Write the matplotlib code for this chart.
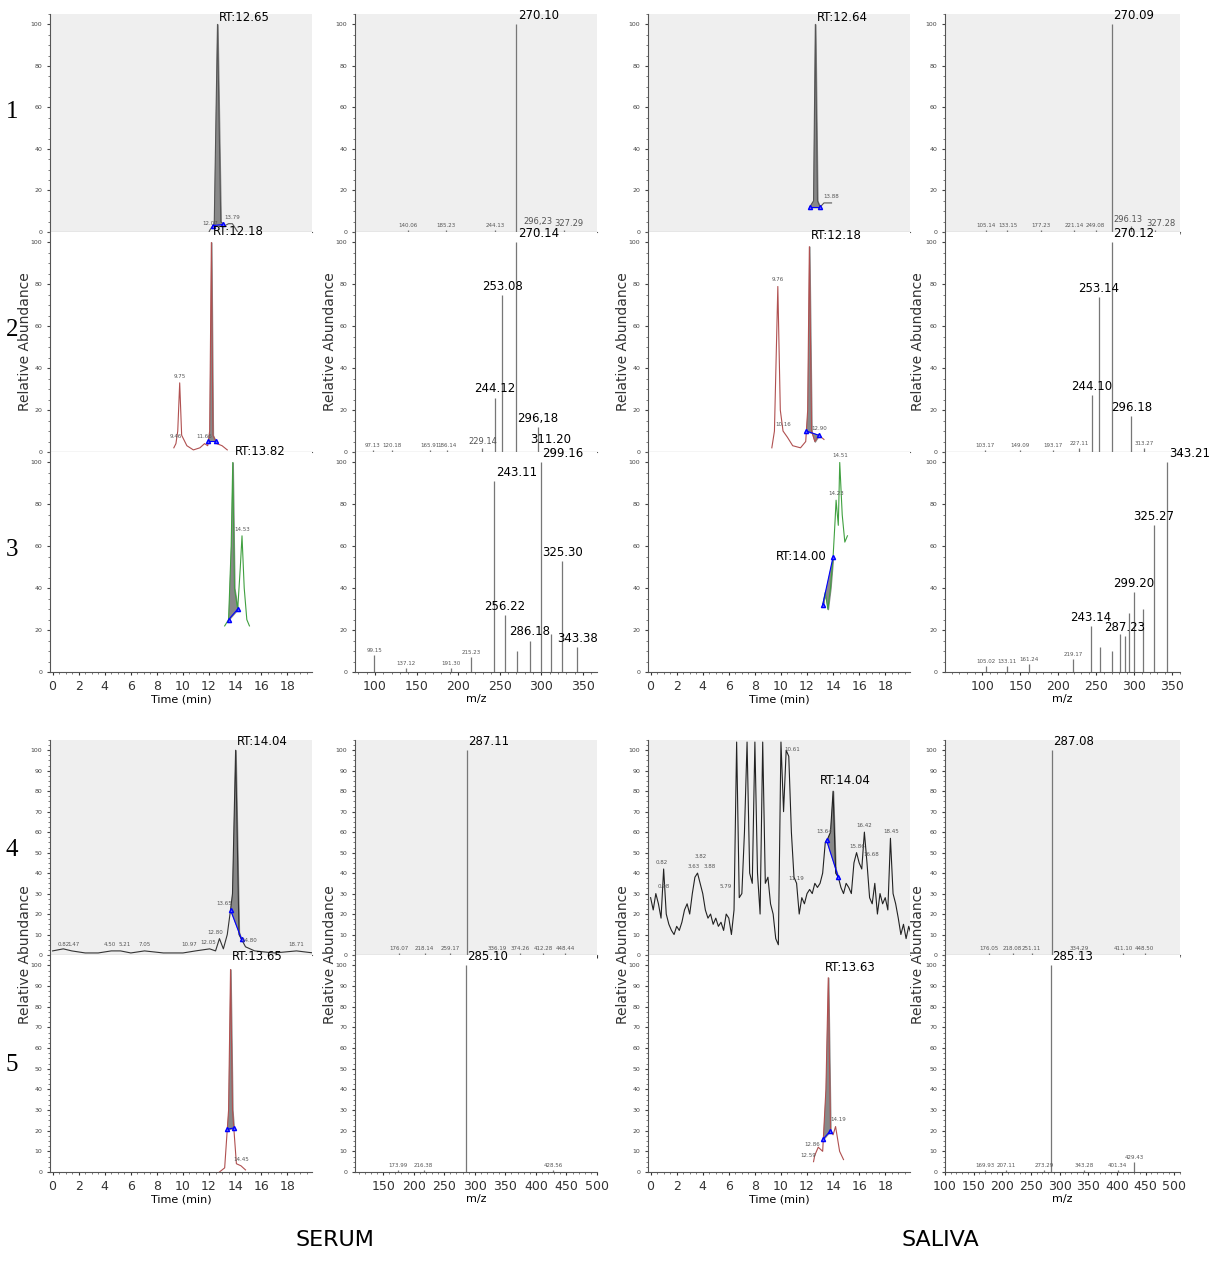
import numpy as np
import matplotlib
matplotlib.use("Agg")
import matplotlib.pyplot as plt
from matplotlib.ticker import MultipleLocator

plt.rcParams['font.family'] = ['DejaVu Sans']

W, H = 1210, 1268

# ---- chromatograms: (time, intensity) vertices, fill range, labels ----
c1_1 = [(12.0, 0), (12.07, 1), (12.4, 4), (12.65, 100), (12.9, 5), (13.2, 3), (13.5, 4), (13.79, 4), (14.2, 0)]
c1_2 = [(9.3, 2), (9.46, 4), (9.6, 10), (9.75, 33), (9.9, 8), (10.3, 3), (10.8, 1), (11.3, 2), (11.66, 4),
        (11.9, 3), (12.05, 10), (12.18, 100), (12.3, 8), (12.6, 4), (13.0, 3), (13.4, 1)]
c1_3 = [(13.2, 22), (13.5, 25), (13.7, 60), (13.82, 100), (13.95, 40), (14.2, 30), (14.4, 50), (14.53, 65),
        (14.7, 40), (14.9, 25), (15.1, 22)]
c3_1 = [(12.2, 12), (12.5, 15), (12.64, 100), (12.8, 15), (13.0, 12), (13.3, 14), (13.6, 14), (13.88, 14)]
c3_2 = [(9.3, 2), (9.5, 10), (9.76, 79), (9.95, 20), (10.16, 10), (10.5, 7), (10.9, 3), (11.5, 2), (11.9, 5),
        (12.05, 20), (12.18, 98), (12.35, 10), (12.6, 5), (12.9, 8), (13.3, 6)]
c3_3 = [(13.2, 32), (13.4, 38), (13.6, 30), (13.8, 40), (14.0, 55), (14.15, 72), (14.23, 82), (14.4, 70),
        (14.51, 100), (14.7, 75), (14.9, 62), (15.1, 65)]
c1_4 = [(0, 2), (0.82, 3), (1.47, 2), (2.5, 1), (3.5, 1), (4.5, 2), (5.21, 2), (6.0, 1), (7.05, 2), (8.5, 1),
        (10.0, 1), (10.97, 2), (12.05, 3), (12.5, 2), (12.8, 8), (13.1, 3), (13.4, 10), (13.65, 22), (13.8, 30),
        (14.04, 100), (14.3, 10), (14.8, 4), (15.5, 2), (17.0, 1), (18.71, 2), (20, 1)]
c1_5 = [(12.8, 0), (13.2, 2), (13.5, 30), (13.65, 98), (13.8, 30), (14.1, 4), (14.45, 3), (14.8, 1)]
c3_5 = [(12.5, 5), (12.59, 8), (12.86, 12), (13.2, 10), (13.45, 40), (13.63, 94), (13.8, 20), (14.0, 18),
        (14.19, 22), (14.5, 10), (14.8, 6)]
# saliva row 4, sampled every 0.2 min from 0 to 20
c3_4_vals = [28, 22, 30, 25, 18, 42, 20, 15, 12, 10, 14, 12, 16, 22, 25, 20, 30, 38, 40, 35, 30, 22, 18, 20,
             15, 18, 14, 16, 12, 20, 18, 10, 22, 120, 28, 30, 60, 120, 40, 35, 120, 40, 20, 120, 35, 38, 25,
             20, 8, 5, 120, 70, 100, 97, 60, 38, 35, 20, 28, 25, 30, 32, 30, 35, 33, 35, 40, 55, 57, 60, 80,
             40, 38, 33, 30, 35, 33, 30, 45, 50, 45, 42, 60, 45, 28, 25, 35, 20, 30, 25, 28, 22, 57, 30, 25,
             18, 10, 15, 8, 14, 10]

chrom_labels = {
    "c1_1": [(12.07, 3, "12.07"), (13.79, 6, "13.79")],
    "c1_2": [(9.46, 6, "9.46"), (9.75, 35, "9.75"), (11.66, 6, "11.66")],
    "c1_3": [(14.53, 67, "14.53")],
    "c3_1": [(13.88, 16, "13.88")],
    "c3_2": [(9.76, 81, "9.76"), (10.16, 12, "10.16"), (12.9, 10, "12.90")],
    "c3_3": [(14.51, 102, "14.51"), (14.23, 84, "14.23")],
    "c1_4": [(0.82, 4, "0.82"), (1.6, 4, "1.47"), (4.4, 4, "4.50"), (5.5, 4, "5.21"), (7.05, 4, "7.05"),
             (10.5, 4, "10.97"), (11.9, 5, "12.05"), (12.5, 10, "12.80"), (13.2, 24, "13.65"),
             (15.1, 6, "14.80"), (18.71, 4, "18.71")],
    "c1_5": [(14.45, 5, "14.45")],
    "c3_4": [(0.82, 44, "0.82"), (1.0, 32, "0.98"), (3.3, 42, "3.63"), (3.82, 47, "3.82"), (4.5, 42, "3.88"),
             (5.79, 32, "5.79"), (10.9, 99, "10.61"), (11.19, 36, "11.19"), (13.3, 59, "13.64"),
             (15.86, 52, "15.86"), (16.42, 62, "16.42"), (16.9, 48, "16.68"), (18.45, 59, "18.45")],
    "c3_5": [(12.4, 12, "12.86"), (12.1, 7, "12.59"), (14.4, 24, "14.19")],
}

# ---- mass spectra: (m/z, intensity) ----
s2_1 = [(140.06, 1), (185.23, 1), (244.13, 1), (270.10, 100), (296.23, 2), (327.29, 1)]
s2_2 = [(97.13, 1), (120.18, 1), (165.91, 1), (186.14, 1), (229.14, 2), (244.12, 26), (253.08, 75),
        (270.14, 100), (296.18, 12), (311.20, 2)]
s2_3 = [(99.15, 8), (137.12, 2), (191.30, 2), (215.23, 7), (243.11, 91), (256.22, 27), (271.2, 10), (286.18, 15),
        (299.16, 100), (311.2, 18), (325.30, 53), (343.38, 12)]
s4_1 = [(105.14, 1), (133.15, 1), (177.23, 1), (221.14, 1), (249.08, 1), (270.09, 100), (296.13, 3), (327.28, 1)]
s4_2 = [(103.17, 1), (149.09, 1), (193.17, 1), (227.11, 2), (244.10, 27), (253.14, 74), (270.12, 100),
        (296.18, 17), (313.27, 2)]
s4_3 = [(105.02, 3), (133.11, 3), (161.24, 4), (219.17, 6), (243.14, 22), (255.0, 12), (270.0, 10),
        (281.0, 18), (287.23, 17), (293.0, 28), (299.20, 38), (311.0, 30), (325.27, 70), (343.21, 100)]
s2_4 = [(176.07, 1), (218.14, 1), (259.17, 1), (287.11, 100), (336.19, 1), (374.26, 1), (412.28, 1), (448.44, 1)]
s2_5 = [(173.99, 1), (216.38, 1), (285.10, 100), (428.56, 1)]
s4_4 = [(176.05, 1), (218.08, 1), (251.11, 1), (287.08, 100), (334.29, 1), (411.10, 1), (448.50, 1)]
s4_5 = [(169.93, 1), (207.11, 1), (273.29, 1), (285.13, 100), (343.28, 1), (401.34, 1), (429.43, 5)]
big_labels = {"270.10", "270.14", "253.08", "244.12", "296,18", "243.11", "299.16", "325.30", "256.22",
              "286.18", "343.38", "270.09", "270.12", "253.14", "244.10", "296.18", "343.21", "325.27",
              "299.20", "243.14", "287.23", "287.11", "285.10", "287.08", "285.13", "311.20"}
mid_labels = {"296,23", "327.29", "296.13", "327.28", "229.14"}

fig = plt.figure(figsize=(W / 100, H / 100), dpi=100)


def make_ax(x0, y0, x1, y1, grey, ystep):
    ax = fig.add_axes([x0 / W, 1 - y1 / H, (x1 - x0) / W, (y1 - y0) / H])
    ax.set_facecolor("#efefef" if grey else "white")
    for s in ("top", "right"):
        ax.spines[s].set_visible(False)
    for s in ("left", "bottom"):
        ax.spines[s].set_color("#555555")
        ax.spines[s].set_linewidth(0.8)
    ax.set_ylim(0, 105)
    ax.set_yticks(np.arange(0, 101, ystep))
    ax.yaxis.set_minor_locator(MultipleLocator(ystep / 4))
    ax.tick_params(axis="y", labelsize=4.5, length=2, colors="#444444")
    ax.tick_params(axis="both", which="minor", length=1.2, colors="#666666")
    ax.tick_params(axis="x", labelsize=9, length=2, colors="#333333")
    return ax


def chrom(ax, pts, color, fill, labels, rt=None, rt_pos=None, show_x=False):
    t = np.array([p[0] for p in pts], dtype=float)
    y = np.array([min(p[1], 104) for p in pts], dtype=float)
    ax.set_xlim(-0.2, 19.9)
    ax.plot(t, y, color=color, lw=0.8)
    if fill:
        a, b = fill
        ya, yb = np.interp(a, t, y), np.interp(b, t, y)
        tt = np.concatenate([[a], t[(t > a) & (t < b)], [b]])
        yy = np.interp(tt, t, y)
        base = ya + (yb - ya) * (tt - a) / (b - a)
        ax.fill_between(tt, yy, base, color="#888888")
        ax.plot([a, b], [ya, yb], color="blue", lw=0.8, marker="^", ms=3, mfc="#6666ff")
    for x, yy, s in labels:
        ax.text(x, yy, s, fontsize=4, color="#555555", ha="center", va="bottom")
    if rt:
        px, py = rt_pos
        ax.text(px, py, rt, fontsize=8.5, ha="left", va="bottom", clip_on=False)
    ax.xaxis.set_major_locator(MultipleLocator(2))
    ax.xaxis.set_minor_locator(MultipleLocator(0.5))
    if show_x:
        ax.set_xlabel("Time (min)", fontsize=8, labelpad=1)
    else:
        ax.set_xticklabels([])


def spec(ax, peaks, xlim, show_x=False, labels=None, xstep=50, shift=None):
    ax.set_xlim(*xlim)
    for mz, inten in peaks:
        ax.vlines(mz, 0, inten, color="#777777", lw=0.9)
    lab = labels if labels is not None else {}
    sh = shift if shift is not None else {}
    for mz, inten in peaks:
        s = lab.get(mz, f"{mz:.2f}")
        big = s in big_labels and inten > 1
        size = 8.5 if big else (6 if s in mid_labels else 4)
        top = big and inten > 90
        ax.text(mz + (2 if top else 0) + sh.get(mz, 0), inten + 1, s, fontsize=size,
                ha="left" if top else "center", va="bottom",
                color="black" if big else "#555555", clip_on=False)
    ax.xaxis.set_major_locator(MultipleLocator(xstep))
    ax.xaxis.set_minor_locator(MultipleLocator(xstep / 5))
    if show_x:
        ax.set_xlabel("m/z", fontsize=8, labelpad=1)
    else:
        ax.set_xticklabels([])


cols = [(50, 312), (355, 597), (648, 910), (945, 1180)]
rows = [(14, 232), (232, 452), (452, 672), (740, 955), (955, 1172)]


def cax(c, r, grey, ystep):
    return make_ax(cols[c][0], rows[r][0], cols[c][1], rows[r][1], grey, ystep)


# serum chromatograms
chrom(cax(0, 0, True, 20), c1_1, "#555555", (12.3, 13.1), chrom_labels["c1_1"], "RT:12.65", (12.75, 100))
chrom(cax(0, 1, False, 20), c1_2, "#b05050", (11.95, 12.5), chrom_labels["c1_2"], "RT:12.18", (12.3, 102))
chrom(cax(0, 2, False, 20), c1_3, "#40a040", (13.5, 14.2), chrom_labels["c1_3"], "RT:13.82", (13.95, 102),
      show_x=True)
chrom(cax(0, 3, True, 10), c1_4, "#333333", (13.65, 14.5), chrom_labels["c1_4"], "RT:14.04", (14.1, 101))
chrom(cax(0, 4, False, 10), c1_5, "#b05050", (13.4, 13.9), chrom_labels["c1_5"], "RT:13.65", (13.75, 101),
      show_x=True)

# saliva chromatograms
chrom(cax(2, 0, True, 20), c3_1, "#555555", (12.2, 13.0), chrom_labels["c3_1"], "RT:12.64", (12.75, 100))
chrom(cax(2, 1, False, 20), c3_2, "#b05050", (11.95, 12.9), chrom_labels["c3_2"], "RT:12.18", (12.3, 100))
chrom(cax(2, 2, False, 20), c3_3, "#40a040", (13.2, 14.0), chrom_labels["c3_3"], "RT:14.00", (9.6, 52),
      show_x=True)
c3_4 = list(zip(np.linspace(0, 20, len(c3_4_vals)), c3_4_vals))
chrom(cax(2, 3, True, 10), c3_4, "#222222", (13.5, 14.4), chrom_labels["c3_4"], "RT:14.04", (13.0, 82))
chrom(cax(2, 4, False, 10), c3_5, "#b05050", (13.25, 13.8), chrom_labels["c3_5"], "RT:13.63", (13.4, 96),
      show_x=True)

# spectra
lim_a = (76, 367)
lim_c = (51, 360)
lim_b = (104, 500)
lim_d = (100, 510)
spec(cax(1, 0, True, 20), s2_1, lim_a, labels={296.23: "296,23"}, shift={327.29: 6})
spec(cax(1, 1, False, 20), s2_2, lim_a, labels={296.18: "296,18"})
spec(cax(1, 2, False, 20), s2_3, lim_a, show_x=True, labels={271.2: "", 311.2: ""})
spec(cax(1, 3, True, 10), s2_4, lim_b)
spec(cax(1, 4, False, 10), s2_5, lim_b, show_x=True)

spec(cax(3, 0, True, 20), s4_1, lim_c, shift={296.13: -4, 327.28: 8})
spec(cax(3, 1, False, 20), s4_2, lim_c)
spec(cax(3, 2, False, 20), s4_3, lim_c, show_x=True,
     labels={255.0: "", 270.0: "", 281.0: "", 293.0: "", 311.0: ""})
spec(cax(3, 3, True, 10), s4_4, lim_d)
spec(cax(3, 4, False, 10), s4_5, lim_d, show_x=True)

# y labels, row numbers, group titles
for x in (25, 330, 623, 918):
    fig.text(x / W, 1 - 342 / H, "Relative Abundance", rotation=90, fontsize=10, ha="center", va="center",
             color="#333333")
    fig.text(x / W, 1 - 955 / H, "Relative Abundance", rotation=90, fontsize=10, ha="center", va="center",
             color="#333333")
for i, y in enumerate((112, 330, 550, 850, 1065)):
    fig.text(12 / W, 1 - y / H, str(i + 1), fontsize=18, family="Liberation Serif", ha="center", va="center")
fig.text(335 / W, 1 - 1240 / H, "SERUM", fontsize=16, ha="center", va="center")
fig.text(940 / W, 1 - 1240 / H, "SALIVA", fontsize=16, ha="center", va="center")

fig.savefig("out.png", dpi=100)
